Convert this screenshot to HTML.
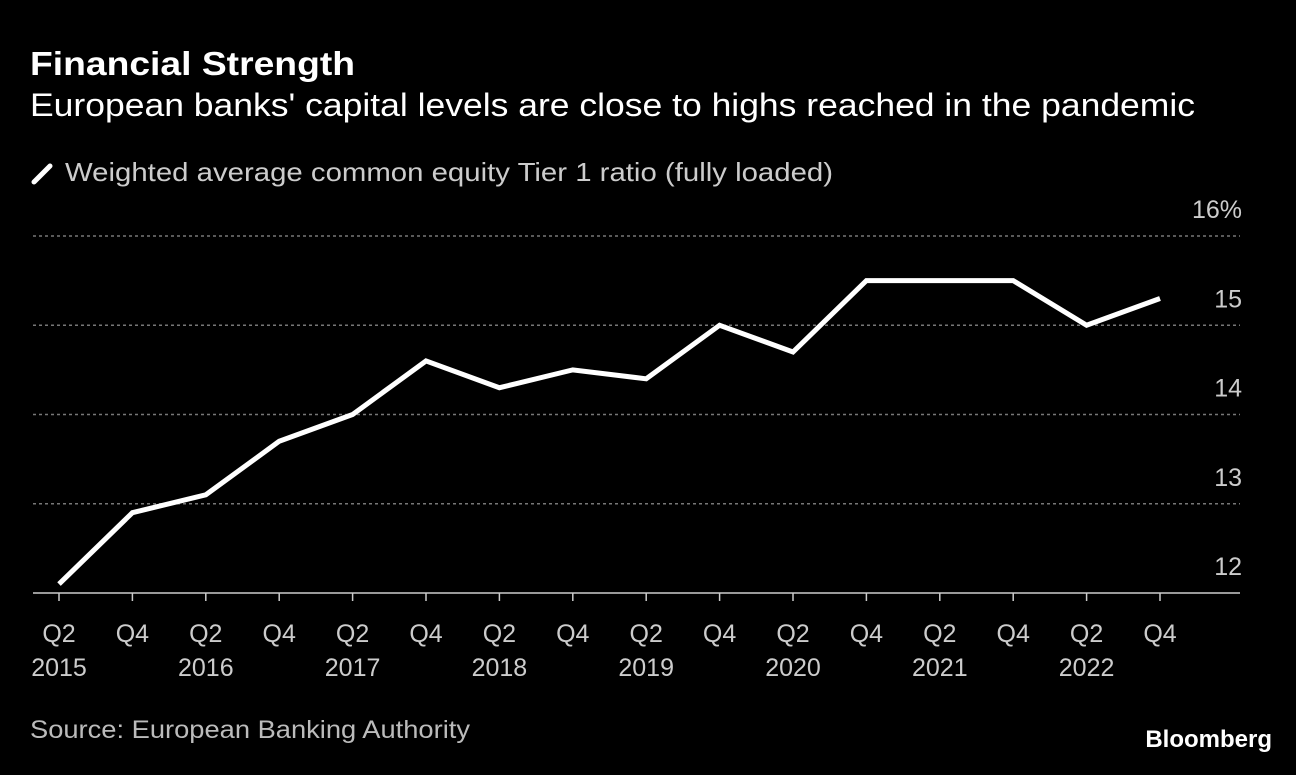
<!DOCTYPE html>
<html><head><meta charset="utf-8"><style>
body{margin:0;background:#000;width:1296px;height:770px;overflow:hidden;font-family:"Liberation Sans",sans-serif;color:#fff}
</style></head><body>
<svg width="1296" height="770">
<text x="30" y="75" font-size="33" font-weight="bold" fill="#fff" textLength="325" lengthAdjust="spacingAndGlyphs">Financial Strength</text>
<text x="30" y="116" font-size="32" fill="#fff" textLength="1165" lengthAdjust="spacingAndGlyphs">European banks' capital levels are close to highs reached in the pandemic</text>
<line x1="34" y1="182" x2="50" y2="166" stroke="#fff" stroke-width="5" stroke-linecap="round"/>
<text x="65" y="181" font-size="26" fill="#ccc" textLength="768" lengthAdjust="spacingAndGlyphs">Weighted average common equity Tier 1 ratio (fully loaded)</text>
<g id="grid"></g><g id="xaxis"></g>
<polyline id="line" fill="none" stroke="#fff" stroke-width="5" stroke-linejoin="miter"/>
<text x="30" y="738" font-size="25" fill="#bbb" textLength="440" lengthAdjust="spacingAndGlyphs">Source: European Banking Authority</text>
<text x="1272" y="747" font-size="24" font-weight="bold" fill="#fff" text-anchor="end">Bloomberg</text>
</svg>
<script>
const categories=["Q2 2015","Q4 2015","Q2 2016","Q4 2016","Q2 2017","Q4 2017","Q2 2018","Q4 2018","Q2 2019","Q4 2019","Q2 2020","Q4 2020","Q2 2021","Q4 2021","Q2 2022","Q4 2022"];
const values=[12.1,12.9,13.1,13.7,14.0,14.6,14.3,14.5,14.4,15.0,14.7,15.5,15.5,15.5,15.0,15.3];
const yTicks=[12,13,14,15,16];
const yLabels=["12","13","14","15","16%"];
const NS="http://www.w3.org/2000/svg";
const x=i=>59+i*(1160-59)/15;
const y=v=>593-(v-12)*89.25;
const grid=document.getElementById('grid');
yTicks.forEach((t,i)=>{
 if(t>12){const l=document.createElementNS(NS,'line');
 l.setAttribute('x1',33);l.setAttribute('x2',1240);l.setAttribute('y1',y(t));l.setAttribute('y2',y(t));
 l.setAttribute('stroke','#777');l.setAttribute('stroke-width',1.5);l.setAttribute('stroke-dasharray','3,3');
 
 
 grid.appendChild(l);}
 const tx=document.createElementNS(NS,'text');
 tx.setAttribute('x',1242);tx.setAttribute('y',y(t)-18);tx.setAttribute('text-anchor','end');
 tx.setAttribute('font-size',25);tx.setAttribute('fill','#ccc');tx.textContent=yLabels[i];
 
 
 grid.appendChild(tx);
});
const xa=document.getElementById('xaxis');
const base=document.createElementNS(NS,'line');
base.setAttribute('x1',33);base.setAttribute('x2',1240);base.setAttribute('y1',593);base.setAttribute('y2',593);
base.setAttribute('stroke','#ccc');base.setAttribute('stroke-width',1.5);


xa.appendChild(base);
categories.forEach((c,i)=>{
 const tk=document.createElementNS(NS,'line');
 tk.setAttribute('x1',x(i));tk.setAttribute('x2',x(i));tk.setAttribute('y1',593);tk.setAttribute('y2',601);
 tk.setAttribute('stroke','#ccc');tk.setAttribute('stroke-width',1.5);
 
 
 xa.appendChild(tk);
 const [q,yr]=c.split(' ');
 const t1=document.createElementNS(NS,'text');
 t1.setAttribute('x',x(i));t1.setAttribute('y',642);t1.setAttribute('text-anchor','middle');
 t1.setAttribute('font-size',25);t1.setAttribute('fill','#ccc');t1.textContent=q;
 
 
 xa.appendChild(t1);
 if(q==='Q2'){const t2=document.createElementNS(NS,'text');
 t2.setAttribute('x',x(i));t2.setAttribute('y',676);t2.setAttribute('text-anchor','middle');
 t2.setAttribute('font-size',25);t2.setAttribute('fill','#ccc');t2.textContent=yr;
 
 
 xa.appendChild(t2);}
});
document.getElementById('line').setAttribute('points',values.map((v,i)=>x(i)+','+y(v)).join(' '));
</script>
</body></html>
